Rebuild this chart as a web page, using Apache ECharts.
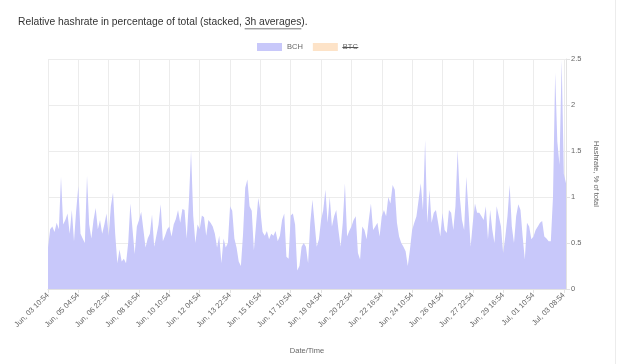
<!DOCTYPE html>
<html>
<head>
<meta charset="utf-8">
<script src="https://cdn.jsdelivr.net/npm/echarts@6/dist/echarts.min.js"></script>
<style>
html,body{margin:0;padding:0;background:#fff;}
#chart{width:632px;height:364px;}
</style>
</head>
<body>
<div id="chart"></div>
<script>
// Tick labels shown on the x axis (every 14th 3h point, plus the last point)
const tickLabels = ['Jun, 03 10:54','Jun, 05 04:54','Jun, 06 22:54','Jun, 08 16:54','Jun, 10 10:54','Jun, 12 04:54','Jun, 13 22:54','Jun, 15 16:54','Jun, 17 10:54','Jun, 19 04:54','Jun, 20 22:54','Jun, 22 16:54','Jun, 24 10:54','Jun, 26 04:54','Jun, 27 22:54','Jun, 29 16:54','Jul, 01 10:54','Jul, 03 08:54'];
const tickStep = 14;
const seriesNames = ['BCH', 'BTC'];
const yTicks = [0, 0.5, 1, 1.5, 2, 2.5];

// BCH hashrate, % of total (3h averages)
const bch = [
0.45,0.65,0.68,0.62,0.72,0.65,1.22,0.70,0.75,0.82,
0.60,0.86,0.52,0.85,1.12,0.60,0.55,0.50,1.23,0.70,
0.55,0.75,0.88,0.65,0.75,0.60,0.70,0.82,0.58,0.90,
1.05,0.60,0.28,0.43,0.30,0.33,0.28,0.50,0.93,0.65,
0.38,0.68,0.75,0.84,0.65,0.45,0.55,0.60,0.81,0.46,
0.58,0.70,0.92,0.52,0.58,0.65,0.68,0.57,0.70,0.76,
0.86,0.72,0.87,0.86,0.55,0.95,1.50,0.80,0.50,0.70,
0.65,0.80,0.78,0.58,0.75,0.72,0.68,0.60,0.45,0.58,
0.28,0.55,0.45,0.50,0.90,0.85,0.55,0.45,0.30,0.25,
0.60,1.10,1.19,0.90,0.85,0.42,0.70,0.99,0.85,0.62,
0.58,0.63,0.54,0.60,0.58,0.63,0.52,0.58,0.75,0.82,
0.35,0.33,0.80,0.82,0.70,0.20,0.25,0.46,0.50,0.46,
0.28,0.72,0.97,0.72,0.46,0.54,0.75,0.86,1.08,0.72,
1.00,0.68,0.79,0.86,0.64,0.46,0.72,1.15,0.57,0.63,
0.68,0.75,0.79,0.39,0.32,0.68,0.64,0.54,0.75,0.93,
0.64,0.68,0.72,0.57,0.79,0.86,0.79,1.00,0.93,1.13,
1.08,0.72,0.57,0.50,0.46,0.41,0.25,0.43,0.64,0.72,
0.79,0.97,1.15,0.86,1.62,0.72,1.08,0.72,0.83,0.86,
0.72,0.57,0.83,0.64,0.61,0.86,0.83,0.64,0.90,1.51,
1.00,0.75,0.64,1.22,0.86,0.46,0.72,0.93,0.83,0.83,
0.79,0.75,0.90,0.54,0.86,0.64,0.50,0.90,0.79,0.68,
0.39,0.57,0.79,1.13,0.68,0.50,0.79,0.92,0.86,0.57,
0.32,0.72,0.68,0.54,0.57,0.64,0.68,0.72,0.74,0.57,
0.55,0.52,0.52,1.00,2.35,1.60,1.35,2.49,1.25,1.15
];
// BTC is hidden (struck through) in the reference legend, no values visible
const btc = [];

// category index per 3h step
const categories = bch.map((v, i) => String(i));

const lastIdx = bch.length - 1;
function showTick(i) { return i % tickStep === 0 || i === lastIdx; }

const FONT = '"Liberation Sans", Arial, Helvetica, sans-serif';
const titlePrefix = 'Relative hashrate in percentage of total (stacked, ';
const titleLink = '3h averages';
const titleSuffix = ').';
const titleSize = 10.3;
const titleLeft = 18, titleTop = 17;

const legendLeft = 257, legendTop = 43, iconW = 25, iconH = 8, legendGap = 10, legendFont = 7.5;

const mc = document.createElement('canvas').getContext('2d');
mc.font = titleSize + 'px "Liberation Sans"';
const wPre = mc.measureText(titlePrefix).width;
const wLink = mc.measureText(titleLink).width;
mc.font = legendFont + 'px "Liberation Sans"';
const wBCH = mc.measureText(seriesNames[0]).width;
const wBTC = mc.measureText(seriesNames[1]).width;
const btcTextX = legendLeft + iconW + 5 + wBCH + legendGap + iconW + 5;
const legendMidY = legendTop + iconH / 2 + 0.5;

const chart = echarts.init(document.getElementById('chart'), null, {renderer: 'canvas'});
chart.setOption({
  animation: false,
  backgroundColor: '#ffffff',
  textStyle: {fontFamily: FONT},
  title: {
    left: titleLeft, top: titleTop, padding: 0,
    text: titlePrefix + titleLink + titleSuffix,
    textStyle: {fontSize: titleSize, fontWeight: 'normal', color: '#333', fontFamily: FONT}
  },
  graphic: [
    {type: 'line', silent: true, shape: {x1: titleLeft + wPre, y1: titleTop + titleSize + 1.5, x2: titleLeft + wPre + wLink, y2: titleTop + titleSize + 1.5}, style: {stroke: '#555', lineWidth: 0.8}},
    {type: 'line', silent: true, z: 100, shape: {x1: btcTextX - 0.5, y1: legendMidY, x2: btcTextX + wBTC + 0.5, y2: legendMidY}, style: {stroke: '#555', lineWidth: 1}},
    {type: 'line', silent: true, shape: {x1: 615.5, y1: 0, x2: 615.5, y2: 364}, style: {stroke: '#ececec', lineWidth: 1}}
  ],
  legend: {
    top: legendTop, left: legendLeft, padding: 0,
    itemWidth: iconW, itemHeight: iconH, itemGap: legendGap,
    icon: 'rect',
    data: seriesNames,
    textStyle: {fontSize: legendFont, color: '#666', fontFamily: FONT}
  },
  grid: {left: 48, right: 66, top: 59, bottom: 75, containLabel: false},
  xAxis: {
    type: 'category',
    data: categories,
    boundaryGap: false,
    name: 'Date/Time', nameLocation: 'middle', nameGap: 58,
    nameTextStyle: {fontSize: 7.5, color: '#666'},
    axisLine: {lineStyle: {color: '#e2e2e2'}},
    axisTick: {show: true, interval: showTick, length: 4, lineStyle: {color: '#e2e2e2'}},
    splitLine: {show: true, interval: showTick, lineStyle: {color: '#ececec'}},
    axisLabel: {
      interval: showTick, rotate: 45, fontSize: 7.5, color: '#666', margin: 5,
      formatter: (v, i) => i === lastIdx ? tickLabels[tickLabels.length - 1] : tickLabels[i / tickStep]
    }
  },
  yAxis: {
    type: 'value', position: 'right',
    min: yTicks[0], max: yTicks[yTicks.length - 1], interval: yTicks[1] - yTicks[0],
    name: 'Hashrate, % of total', nameLocation: 'middle', nameRotate: -90, nameGap: 21,
    nameTextStyle: {fontSize: 7.5, color: '#666'},
    axisLine: {show: true, lineStyle: {color: '#e2e2e2'}},
    axisTick: {show: true, length: 4, lineStyle: {color: '#e2e2e2'}},
    splitLine: {lineStyle: {color: '#ececec'}},
    axisLabel: {fontSize: 7.5, color: '#666', margin: 5}
  },
  series: [
    {name: seriesNames[0], type: 'line', stack: 'total', data: bch, showSymbol: false, smooth: false,
     color: '#c8c8fa', lineStyle: {width: 0}, areaStyle: {color: '#c8c8fa', opacity: 1}},
    {name: seriesNames[1], type: 'line', stack: 'total', data: btc, showSymbol: false,
     color: '#fde3c8', lineStyle: {width: 0}, areaStyle: {color: '#fde3c8', opacity: 1}}
  ]
});
</script>
</body>
</html>
